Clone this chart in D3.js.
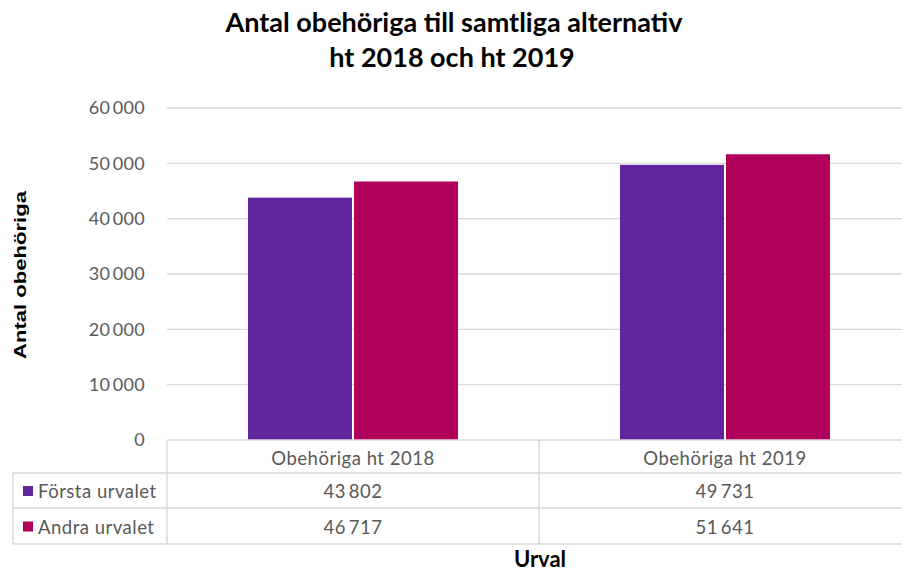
<!DOCTYPE html>
<html>
<head>
<meta charset="utf-8">
<script src="https://cdn.jsdelivr.net/npm/d3@7"></script>
<style>
  body { margin: 0; background: #fff; }
  svg { display: block; }
</style>
</head>
<body>
<div id="chart"></div>
<script>
const categories = ["Obehöriga ht 2018", "Obehöriga ht 2019"];
const seriesNames = ["Första urvalet", "Andra urvalet"];
const forsta = [43802, 49731];
const andra = [46717, 51641];
const yTicks = [0, 10000, 20000, 30000, 40000, 50000, 60000];
const colors = ["#60259d", "#b0005a"];

const width = 902, height = 573;
const plotLeft = 167, plotRight = 911, plotTop = 108, plotBottom = 440;
const rowH = [33, 35, 36];
const font = "Lato, 'Open Sans', sans-serif";
const textCol = "#595959";

// swedish thousands separator (thin gap)
const fmt = v => v >= 1000 ? d3.format(",")(v).replace(/,/g, "\u2009") : String(v);

const svg = d3.select("#chart").append("svg")
    .attr("width", width).attr("height", height);

const x = d3.scaleBand().domain(categories).range([plotLeft, plotRight]);
const x1 = d3.scaleBand().domain(seriesNames).range([0, x.bandwidth()]).paddingInner(0.019).paddingOuter(0.764);
const y = d3.scaleLinear().domain([0, 60000]).range([plotBottom, plotTop]);

// grid lines
svg.append("g").selectAll("line").data(yTicks.filter(d => d > 0)).enter().append("line")
    .attr("x1", plotLeft).attr("x2", width)
    .attr("y1", d => y(d)).attr("y2", d => y(d))
    .attr("stroke", "#d9d9d9").attr("stroke-width", 1.4);

// y axis labels
const yAxis = svg.append("g").attr("transform", `translate(${plotLeft},0)`)
    .call(d3.axisLeft(y).tickValues(yTicks).tickFormat(fmt).tickSize(0).tickPadding(22));
yAxis.select(".domain").remove();
yAxis.selectAll("text").attr("font-family", font).attr("font-size", 18)
    .attr("letter-spacing", 0.3).attr("fill", textCol);

// bars
const series = [forsta, andra];
const bars = svg.append("g");
series.forEach((vals, si) => {
    bars.selectAll(null).data(vals).enter().append("rect")
        .attr("x", (d, i) => x(categories[i]) + x1(seriesNames[si]))
        .attr("width", x1.bandwidth())
        .attr("y", d => y(d))
        .attr("height", d => y(0) - y(d))
        .attr("fill", colors[si]);
});

// data table
const tbl = svg.append("g");
const legendLeft = 13;
const rows = [plotBottom, plotBottom + rowH[0], plotBottom + rowH[0] + rowH[1], plotBottom + rowH[0] + rowH[1] + rowH[2]];
const lineCol = "#d9d9d9";
// horizontal lines
tbl.append("line").attr("x1", plotLeft).attr("x2", width).attr("y1", rows[0]).attr("y2", rows[0])
    .attr("stroke", lineCol).attr("stroke-width", 1.4);
rows.slice(1).forEach(r => {
    tbl.append("line").attr("x1", legendLeft).attr("x2", width).attr("y1", r).attr("y2", r)
        .attr("stroke", lineCol).attr("stroke-width", 1.4);
});
// vertical lines
tbl.append("line").attr("x1", legendLeft).attr("x2", legendLeft).attr("y1", rows[1]).attr("y2", rows[3])
    .attr("stroke", lineCol).attr("stroke-width", 1.4);
[plotLeft, x(categories[1])].forEach(vx => {
    tbl.append("line").attr("x1", vx).attr("x2", vx).attr("y1", rows[0]).attr("y2", rows[3])
        .attr("stroke", lineCol).attr("stroke-width", 1.4);
});

// header
tbl.selectAll(null).data(categories).enter().append("text")
    .attr("x", d => x(d) + x.bandwidth() / 2).attr("y", (rows[0] + rows[1]) / 2 + 8)
    .attr("text-anchor", "middle").attr("font-family", font).attr("font-size", 18.5)
    .attr("letter-spacing", 0.5).attr("fill", textCol)
    .text(d => d);

// series rows
series.forEach((vals, si) => {
    const cy = (rows[si + 1] + rows[si + 2]) / 2;
    tbl.append("rect").attr("x", 23).attr("y", cy - 4.5).attr("width", 10).attr("height", 10).attr("fill", colors[si]);
    tbl.append("text").attr("x", 38).attr("y", cy + 7.5)
        .attr("font-family", font).attr("font-size", 18.5).attr("letter-spacing", 0.5)
        .attr("fill", textCol).text(seriesNames[si]);
    tbl.selectAll(null).data(vals).enter().append("text")
        .attr("x", (d, i) => x(categories[i]) + x.bandwidth() / 2).attr("y", cy + 7.5)
        .attr("text-anchor", "middle").attr("font-family", font).attr("font-size", 18.5)
        .attr("letter-spacing", 0.5).attr("fill", textCol)
        .text(fmt);
});

// titles
const title = svg.append("text").attr("text-anchor", "middle")
    .attr("font-family", font).attr("font-weight", "bold").attr("font-size", 27).attr("fill", "#000");
title.append("tspan").attr("x", 454).attr("y", 32).text("Antal obehöriga till samtliga alternativ");
title.append("tspan").attr("x", 452).attr("y", 67).text("ht 2018 och ht 2019");

svg.append("text").attr("transform", "translate(26,275) rotate(-90) scale(1.38,1)")
    .attr("text-anchor", "middle").attr("font-family", "'Liberation Sans', Arial, sans-serif")
    .attr("font-weight", "bold").attr("font-size", 16).attr("fill", "#000")
    .text("Antal obehöriga");

svg.append("text").attr("x", 540).attr("y", 567).attr("text-anchor", "middle")
    .attr("font-family", font).attr("font-weight", "bold").attr("font-size", 22).attr("fill", "#000")
    .text("Urval");
</script>
</body>
</html>
